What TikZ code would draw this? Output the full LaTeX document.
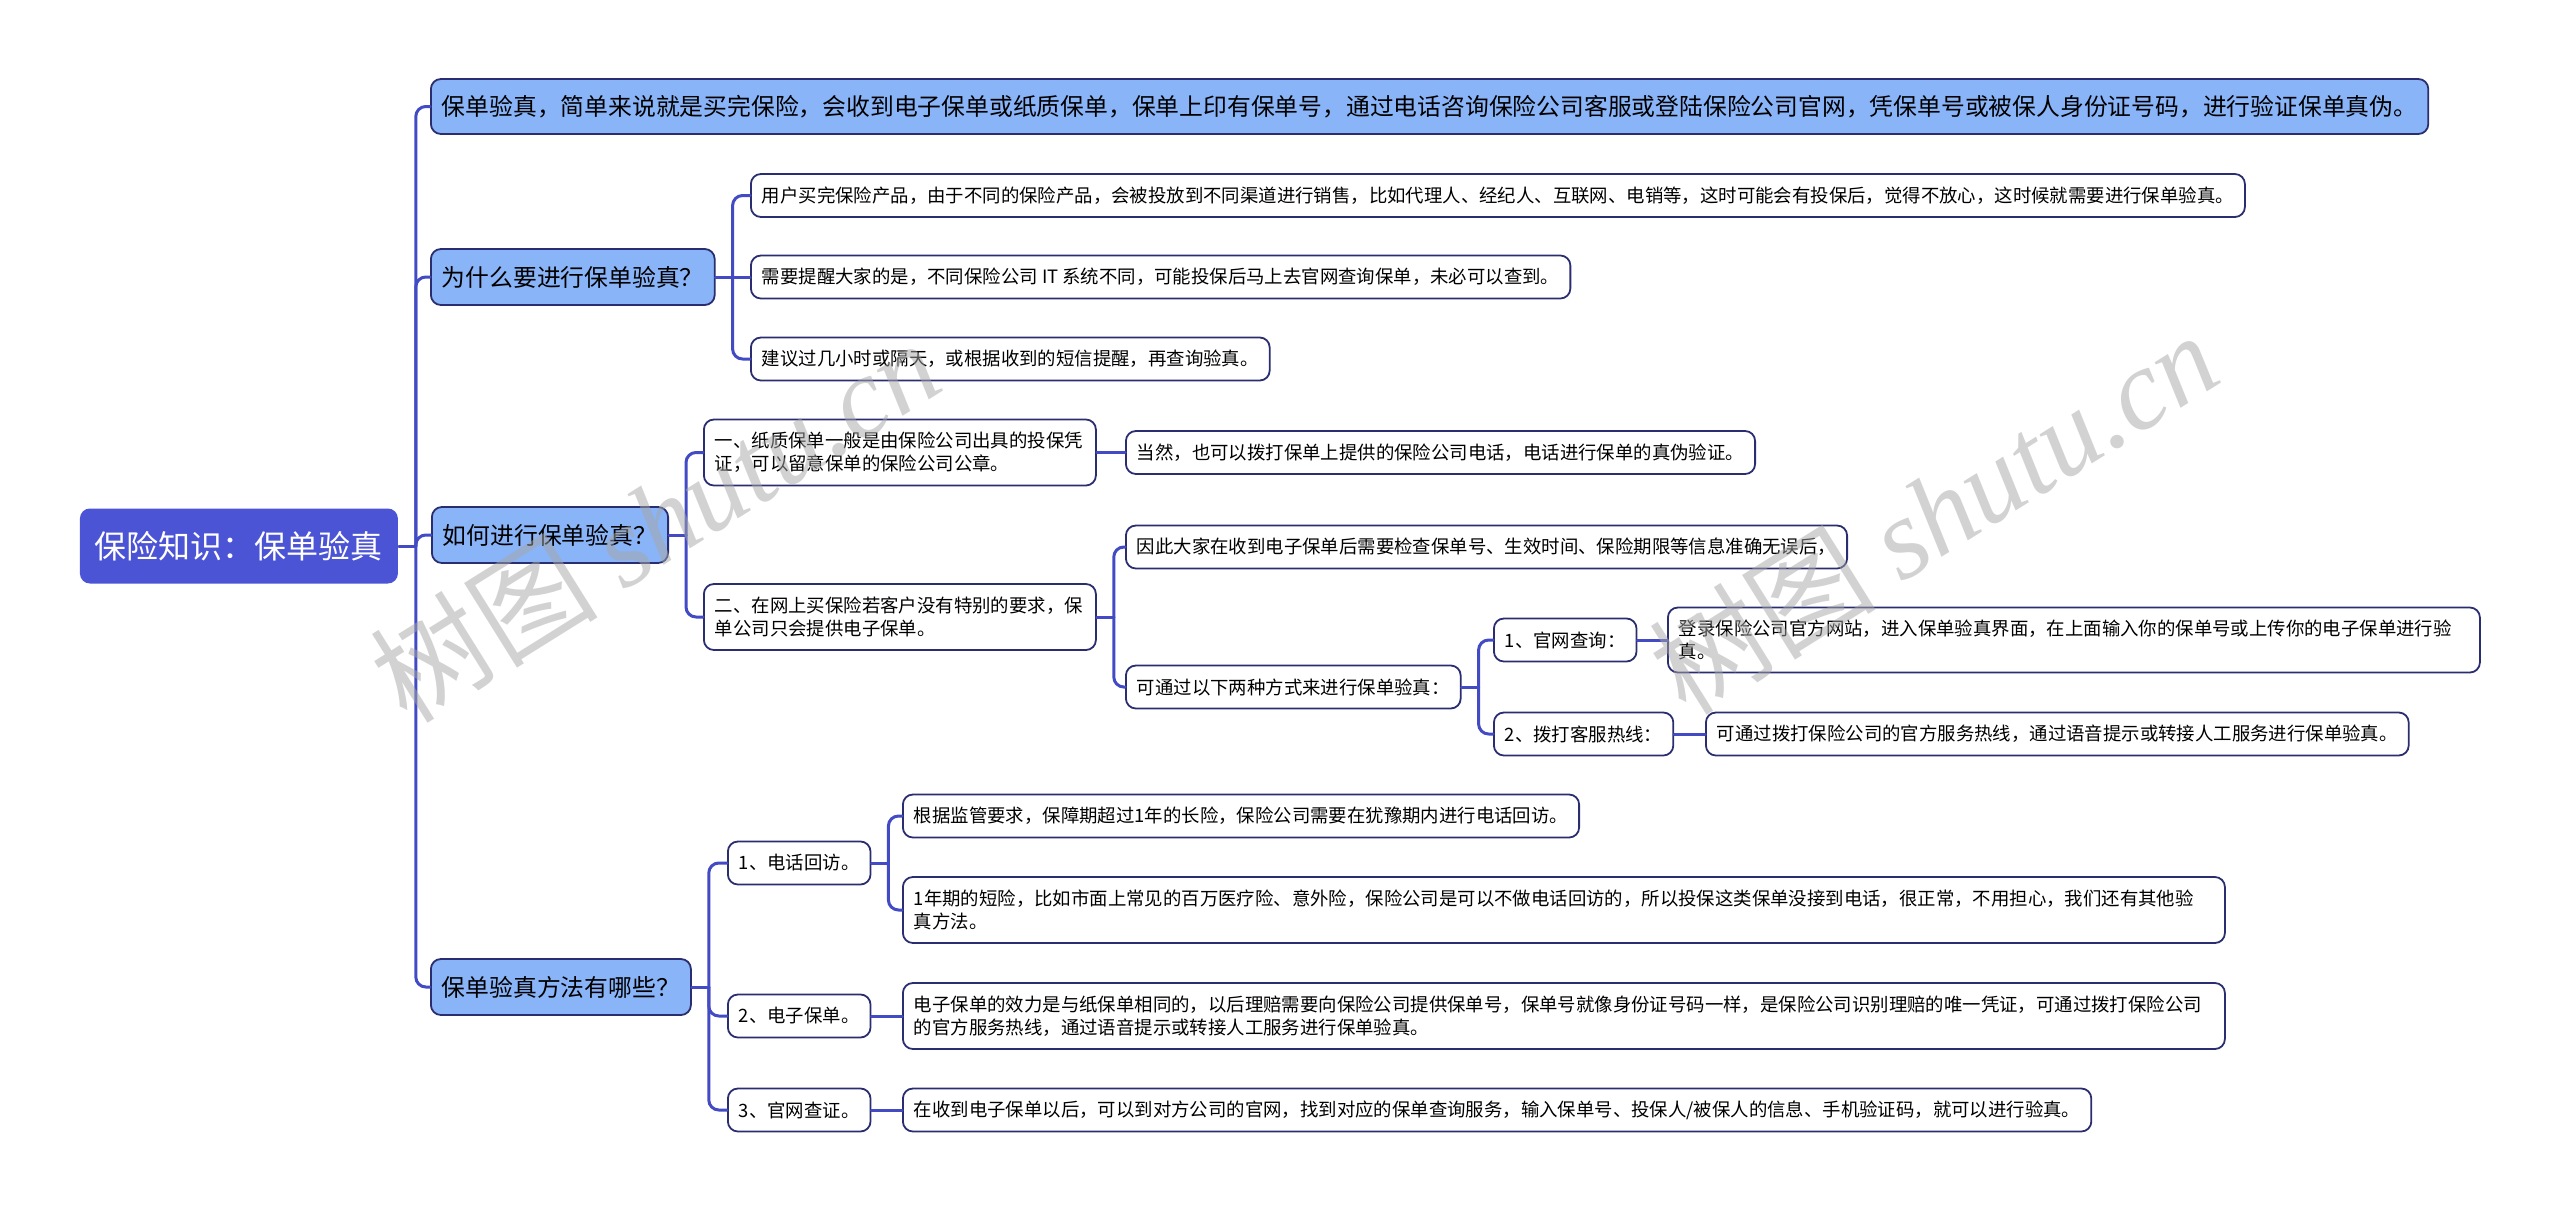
\documentclass[tikz,border=0pt]{standalone}
\usepackage{fontspec}
\setmainfont{Noto Sans CJK SC}
\newfontfamily\wmfont{Liberation Serif}
\definecolor{rootblue}{RGB}{76,84,214}
\definecolor{topicblue}{RGB}{138,180,248}
\definecolor{linkblue}{RGB}{66,74,196}
\definecolor{boxedge}{RGB}{42,46,112}
\tikzset{
  mapline/.style={draw=linkblue,line width=1.5pt,rounded corners=5pt},
  box/.style={draw=boxedge,line width=0.9pt,rounded corners=5pt,anchor=west,align=left,inner xsep=5.5pt,inner ysep=0pt},
  rootbox/.style={box,draw=none,fill=rootblue,text=white,font=\fontsize{16pt}{19pt}\selectfont,minimum height=37.5pt,inner xsep=7.5pt},
  topic/.style={box,fill=topicblue,font=\fontsize{11.9pt}{14pt}\selectfont,minimum height=28pt},
  leaf/.style={box,fill=white,font=\fontsize{9.2pt}{11.5pt}\selectfont,minimum height=21.5pt},
  twoline/.style={leaf,minimum height=33pt,text width=#1},
  wmark/.style={text=black!35,opacity=0.5,rotate=32,font=\fontsize{57pt}{57pt}\selectfont}
}
\begin{document}
\begin{tikzpicture}[x=0.5pt,y=-0.5pt,line cap=round,line join=round]
  \useasboundingbox (0,0) rectangle (2560,1210);
  % root and main topics
  \node[rootbox] (root) at (79,546) {保险知识：保单验真};
  \node[topic,minimum height=27.5pt] (intro) at (430,106.5) {保单验真，简单来说就是买完保险，会收到电子保单或纸质保单，保单上印有保单号，通过电话咨询保险公司客服或登陆保险公司官网，凭保单号或被保人身份证号码，进行验证保单真伪。};
  \node[topic] (why) at (430,277) {为什么要进行保单验真？};
  \node[topic] (how) at (431,535) {如何进行保单验真？};
  \node[topic] (ways) at (430,987) {保单验真方法有哪些？};
  % why
  \node[leaf] (why1) at (750,195.5) {用户买完保险产品，由于不同的保险产品，会被投放到不同渠道进行销售，比如代理人、经纪人、互联网、电销等，这时可能会有投保后，觉得不放心，这时候就需要进行保单验真。};
  \node[leaf] (why2) at (750,277) {需要提醒大家的是，不同保险公司 IT 系统不同，可能投保后马上去官网查询保单，未必可以查到。};
  \node[leaf] (why3) at (750,359) {建议过几小时或隔天，或根据收到的短信提醒，再查询验真。};
  % how
  \node[twoline=185pt] (paper) at (703,452.5) {一、纸质保单一般是由保险公司出具的投保凭\\证，可以留意保单的保险公司公章。};
  \node[twoline=185pt] (online) at (703,617) {二、在网上买保险若客户没有特别的要求，保\\单公司只会提供电子保单。};
  \node[leaf] (paper1) at (1125,452.5) {当然，也可以拨打保单上提供的保险公司电话，电话进行保单的真伪验证。};
  \node[leaf] (online1) at (1125,547) {因此大家在收到电子保单后需要检查保单号、生效时间、保险期限等信息准确无误后，};
  \node[leaf] (online2) at (1125,687) {可通过以下两种方式来进行保单验真：};
  \node[leaf] (site) at (1493,640) {1、官网查询：};
  \node[leaf] (hotline) at (1493,734) {2、拨打客服热线：};
  \node[twoline=395pt,minimum height=32.5pt] (sitetxt) at (1667,640) {登录保险公司官方网站，进入保单验真界面，在上面输入你的保单号或上传你的电子保单进行验\\真。};
  \node[leaf] (hotlinetxt) at (1705,734) {可通过拨打保险公司的官方服务热线，通过语音提示或转接人工服务进行保单验真。};
  % ways
  \node[leaf] (call) at (727,863) {1、电话回访。};
  \node[leaf] (epolicy) at (727,1016) {2、电子保单。};
  \node[leaf] (web) at (727,1110) {3、官网查证。};
  \node[leaf] (call1) at (902,816) {根据监管要求，保障期超过1年的长险，保险公司需要在犹豫期内进行电话回访。};
  \node[twoline=650pt] (call2) at (902,910) {1年期的短险，比如市面上常见的百万医疗险、意外险，保险公司是可以不做电话回访的，所以投保这类保单没接到电话，很正常，不用担心，我们还有其他验\\真方法。};
  \node[twoline=650pt] (epolicy1) at (902,1016) {电子保单的效力是与纸保单相同的，以后理赔需要向保险公司提供保单号，保单号就像身份证号码一样，是保险公司识别理赔的唯一凭证，可通过拨打保险公司\\的官方服务热线，通过语音提示或转接人工服务进行保单验真。};
  \node[leaf] (web1) at (902,1110) {在收到电子保单以后，可以到对方公司的官网，找到对应的保单查询服务，输入保单号、投保人/被保人的信息、手机验证码，就可以进行验真。};
  % branches
  \foreach \p in {root,why,how,online,online2,ways,call}
    \draw[mapline] (\p.east) -- ++(17,0);
  \foreach \p/\c in {root/intro,root/why,root/how,root/ways,why/why1,why/why3,how/paper,how/online,online/online1,online/online2,online2/site,online2/hotline,ways/call,ways/epolicy,ways/web,call/call1,call/call2}
    \draw[mapline] (\p.east) ++(17,0) |- (\c.west);
  \foreach \p/\c in {why/why2,paper/paper1,site/sitetxt,hotline/hotlinetxt,epolicy/epolicy1,web/web1}
    \draw[mapline] (\p.east) -- (\c.west);
  % watermark
  \node[wmark] (wm1) at (655,520) {树图 {\wmfont\itshape shutu.cn}};
  \node[wmark] (wm2) at (1933,512) {树图 {\wmfont\itshape shutu.cn}};
\end{tikzpicture}
\end{document}
